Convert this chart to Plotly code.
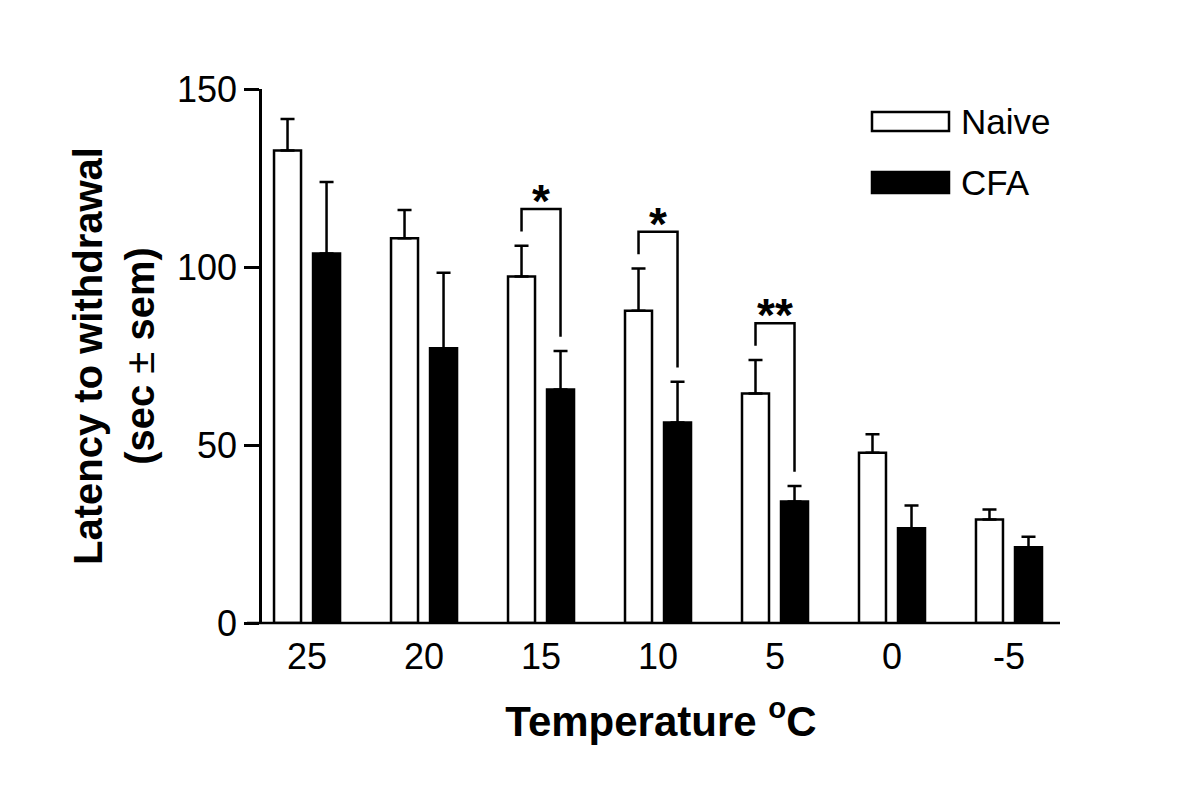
import plotly.graph_objects as go

# ---- data ----
temps = ["25", "20", "15", "10", "5", "0", "-5"]
naive = [132.7, 108.1, 97.3, 87.7, 64.5, 47.8, 29.1]
naive_sem = [8.9, 7.9, 8.7, 11.9, 9.4, 5.2, 2.8]
cfa = [103.8, 77.2, 65.6, 56.3, 34.1, 26.6, 21.3]
cfa_sem = [20.1, 21.2, 10.8, 11.5, 4.4, 6.4, 2.9]
sig_index = [2, 3, 4]
sig_label = ["*", "*", "**"]
y_ticks = [0, 50, 100, 150]

FONT = "Liberation Sans, Arial, sans-serif"
LW = 2.5

# plot-area geometry (pixels)
L, T, PW, PH = 254, 81, 798, 534

fig = go.Figure()
fig.add_trace(go.Bar(
    x=temps, y=naive, name="Naive",
    marker=dict(color="white", line=dict(color="black", width=LW)),
    error_y=dict(type="data", symmetric=False, array=naive_sem,
                 arrayminus=[0] * len(naive), color="black", thickness=LW, width=7),
))
fig.add_trace(go.Bar(
    x=temps, y=cfa, name="CFA",
    marker=dict(color="black", line=dict(color="black", width=LW)),
    error_y=dict(type="data", symmetric=False, array=cfa_sem,
                 arrayminus=[0] * len(cfa), color="black", thickness=LW, width=7),
))

shapes = []
annotations = []
off = 1 / 6
gap = 4.0
rise = 6.3
for i, lab in zip(sig_index, sig_label):
    ltop = naive[i] + naive_sem[i] + gap
    rtop = cfa[i] + cfa_sem[i] + gap
    hy = ltop + rise
    xl, xr = i - off, i + off
    shapes.append(dict(type="path", xref="x", yref="y",
                       path=f"M {xl},{ltop} L {xl},{hy} L {xr},{hy} L {xr},{rtop}",
                       line=dict(color="black", width=LW)))
    annotations.append(dict(x=i, y=hy, xref="x", yref="y", text=f"<b>{lab}</b>",
                            showarrow=False, yanchor="bottom", yshift=-20,
                            font=dict(family=FONT, size=46, color="black")))

# x-axis line extending to the tick length on the left
shapes.append(dict(type="line", xref="paper", yref="paper", x0=-15 / PW, x1=1, y0=0, y1=0,
                   line=dict(color="black", width=LW)))

# legend (manual), positions relative to the plot area
for name, fill, yt, yb in [("Naive", "white", 23, 42), ("CFA", "black", 83, 104)]:
    shapes.append(dict(type="rect", xref="paper", yref="paper",
                       x0=610 / PW, x1=687 / PW,
                       y0=1 - yb / PH, y1=1 - yt / PH,
                       fillcolor=fill, line=dict(color="black", width=LW)))
    annotations.append(dict(x=697 / PW, y=1 - (yt + yb) / 2 / PH,
                            xref="paper", yref="paper", text=name, showarrow=False,
                            xanchor="left", yanchor="middle",
                            font=dict(family=FONT, size=35, color="black")))

fig.update_layout(
    width=1200, height=808,
    margin=dict(l=L, r=1200 - L - PW, t=T, b=808 - T - PH),
    paper_bgcolor="white", plot_bgcolor="white",
    barmode="group", bargap=0.333, bargroupgap=0.308,
    showlegend=False,
    shapes=shapes, annotations=annotations,
    font=dict(family=FONT, color="black"),
)
fig.update_xaxes(
    type="category", range=[-0.385, 6.436], automargin=False,
    showline=False, showgrid=False, zeroline=False, ticks="",
    ticklabelstandoff=9,
    tickfont=dict(family=FONT, size=36, color="black"),
    title=dict(text="<b>Temperature <sup>o</sup>C</b>", standoff=30,
               font=dict(family=FONT, size=42, color="black")),
)
fig.update_yaxes(
    range=[0, 150], tickvals=y_ticks, automargin=False,
    showline=True, linecolor="black", linewidth=LW,
    ticks="outside", ticklen=15, tickwidth=LW, tickcolor="black",
    showgrid=False, zeroline=False,
    tickfont=dict(family=FONT, size=36, color="black"),
    title=dict(text="<b>Latency to withdrawal</b><br><b>(sec </b>±<b> sem)</b>",
               standoff=10, font=dict(family=FONT, size=40, color="black")),
)

fig.write_html("out.html")
